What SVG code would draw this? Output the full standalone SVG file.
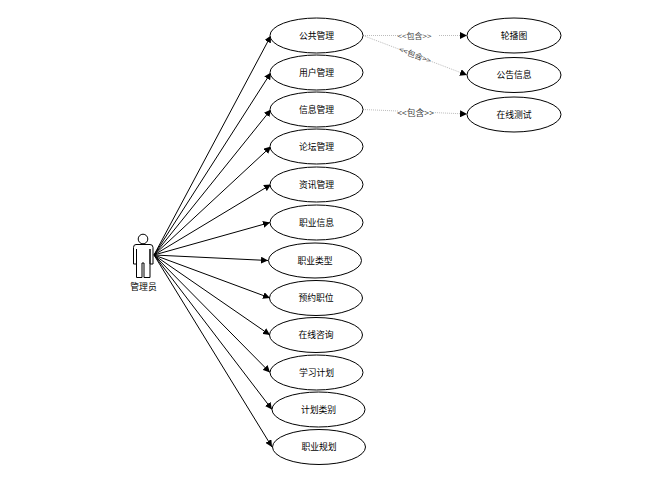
<svg xmlns="http://www.w3.org/2000/svg" width="648" height="478" viewBox="0 0 648 478">
<style>
text{font-family:"Noto Sans CJK SC","Liberation Sans",sans-serif;font-size:8.800px;fill:#000;text-anchor:middle}
.u{fill:#fff;stroke:#000;stroke-width:1}
.a{fill:none;stroke:#000;stroke-width:1;marker-end:url(#h)}
.d{fill:none;stroke:#aaa;stroke-width:.8;stroke-dasharray:1 1;marker-end:url(#h)}
.l{fill:#444;font-size:8px}
</style>
<defs><marker id="h" markerUnits="userSpaceOnUse" markerWidth="8" markerHeight="7" refX="7" refY="3.500" orient="auto"><path d="M0 0L7 3.500L0 7Z" fill="#000"/></marker></defs>
<rect width="648" height="478" fill="#fff"/>
<g id="connectors">
<path class="a" d="M154 255L271 35.500"/>
<path class="a" d="M154 255L271 72.500"/>
<path class="a" d="M154 255L271 109.500"/>
<path class="a" d="M154 255L271 146.500"/>
<path class="a" d="M154 255L271 184.500"/>
<path class="a" d="M154 255L270 222.500"/>
<path class="a" d="M154 255L268 260.500"/>
<path class="a" d="M154 255L270 298"/>
<path class="a" d="M154 255L270 335"/>
<path class="a" d="M154 255L270 372.500"/>
<path class="a" d="M154 255L272 409.500"/>
<path class="a" d="M154 255L272 447"/>
<path class="d" d="M363 35.500L467 35.500"/>
<path class="d" d="M363 35.500L467 75"/>
<path class="d" d="M363 109.500L467 114"/>
<rect x="399" y="30" width="40" height="10" fill="#fff"/>
<text class="l" x="414.500" y="38.500">&lt;&lt;包含&gt;&gt;</text>
<text class="l" x="415" y="58" transform="rotate(21 415 55)">&lt;&lt;包含&gt;&gt;</text>
<rect x="398" y="108" width="36" height="10" fill="#fff"/>
<text class="l" x="415.500" y="116" style="font-size:8.800px">&lt;&lt;包含&gt;&gt;</text>
</g>
<g id="actor">
<circle cx="143" cy="239" r="4.800" fill="#fff" stroke="#000"/>
<path d="M136 244.500H150Q153 244.500 153 247.500V264H150V249V277.500H144V263H142V277.500H136.500V249V264H133.500V247.500Q133.500 244.500 136 244.500Z" fill="#fff" stroke="#000"/>
<text x="143.500" y="290">管理员</text>
</g>
<g id="n1"><ellipse class="u" cx="316.500" cy="35.500" rx="46.500" ry="17.500"/><text x="316.500" y="38.500">公共管理</text></g>
<g id="n2"><ellipse class="u" cx="316.500" cy="72.500" rx="46.500" ry="17.500"/><text x="316.500" y="75.500">用户管理</text></g>
<g id="n3"><ellipse class="u" cx="316.500" cy="109.500" rx="46.500" ry="17.500"/><text x="316.500" y="112.500">信息管理</text></g>
<g id="n4"><ellipse class="u" cx="316.500" cy="146.500" rx="46.500" ry="17.500"/><text x="316.500" y="149.500">论坛管理</text></g>
<g id="n5"><ellipse class="u" cx="316.500" cy="184.500" rx="46.500" ry="17.500"/><text x="316.500" y="187.500">资讯管理</text></g>
<g id="n6"><ellipse class="u" cx="316.500" cy="222.500" rx="46.500" ry="17.500"/><text x="316.500" y="225.500">职业信息</text></g>
<g id="n7"><ellipse class="u" cx="315" cy="260.500" rx="46.500" ry="17.500"/><text x="315" y="263.500">职业类型</text></g>
<g id="n8"><ellipse class="u" cx="316" cy="298" rx="46.500" ry="17.500"/><text x="316" y="301">预约职位</text></g>
<g id="n9"><ellipse class="u" cx="316" cy="335" rx="46.500" ry="17.500"/><text x="316" y="338">在线咨询</text></g>
<g id="n10"><ellipse class="u" cx="316.500" cy="372.500" rx="46.500" ry="17.500"/><text x="316.500" y="375.500">学习计划</text></g>
<g id="n11"><ellipse class="u" cx="318.500" cy="409.500" rx="46.500" ry="17.500"/><text x="318.500" y="412.500">计划类别</text></g>
<g id="n12"><ellipse class="u" cx="319" cy="447" rx="46.500" ry="17.500"/><text x="319" y="450">职业规划</text></g>
<g id="n13"><ellipse class="u" cx="514" cy="35.500" rx="47" ry="17.500"/><text x="514" y="38.500">轮播图</text></g>
<g id="n14"><ellipse class="u" cx="514" cy="75" rx="47" ry="17.500"/><text x="514" y="78">公告信息</text></g>
<g id="n15"><ellipse class="u" cx="514" cy="114.500" rx="47" ry="17.500"/><text x="514" y="117.500">在线测试</text></g>
</svg>
